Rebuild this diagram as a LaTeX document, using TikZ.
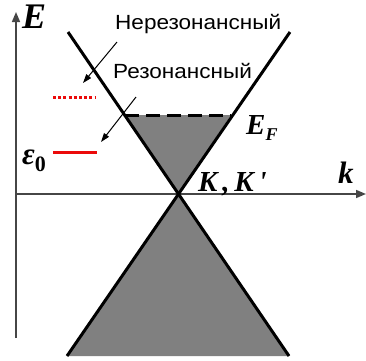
\documentclass[tikz,border=0pt]{standalone}
\usepackage{fontspec}
\setmainfont{Liberation Serif}
\newfontfamily\capfont[FakeStretch=1.1]{Liberation Sans}
\usetikzlibrary{arrows.meta}
\definecolor{levelred}{RGB}{235, 10, 10}
\definecolor{axisgray}{RGB}{70, 70, 70}
\definecolor{bandgray}{RGB}{128, 128, 128}

\begin{document}
\begin{tikzpicture}[x=1pt, y=-1pt,
  axis/.style={line width=1.6pt, axisgray, -{Triangle[length=10pt, width=8pt]}},
  cone/.style={line width=3pt, black},
  band/.style={fill=bandgray, draw=none},
  level/.style={line width=3pt, levelred},
  ptr/.style={line width=1pt, black, -{Triangle[length=9pt, width=6pt]}},
  caption/.style={font=\capfont\fontsize{20.5}{22}\selectfont, inner sep=0pt, anchor=base west},
  sym/.style={font=\bfseries\itshape\fontsize{#1}{#1}\selectfont, inner sep=0pt, anchor=base west}
]
  \useasboundingbox (0,0) rectangle (366,360);
  % points of the cone
  \coordinate (dirac) at (178,194);
  \coordinate (ul) at (68,32);
  \coordinate (ur) at (290,32);
  \coordinate (ll) at (67,356);
  \coordinate (lr) at (289,356);
  \coordinate (fl) at (125,115);
  \coordinate (fr) at (231,115);
  % filled bands
  \fill[band] (dirac) -- (ll) -- (lr) -- cycle;
  \fill[band] (fl) -- (fr) -- (dirac) -- cycle;
  % axes
  \coordinate (origin) at (16,338);
  \coordinate (etop) at (16,12);
  \coordinate (kleft) at (16,194);
  \coordinate (kright) at (366,194);
  \draw[axis] (origin) -- (etop);
  \draw[axis] (kleft) -- (kright);
  % cone lines
  \draw[cone] (ul) -- (lr);
  \draw[cone] (ur) -- (ll);
  \draw[cone, dash pattern=on 14pt off 7pt] (fl) -- (fr);
  % levels
  \coordinate (nrl) at (53,97);
  \coordinate (nrr) at (96,97);
  \coordinate (rl) at (53,152);
  \coordinate (rr) at (97,152);
  \draw[level, dash pattern=on 3pt off 2.2pt] (nrl) -- (nrr);
  \draw[level] (rl) -- (rr);
  % captions
  \node[caption] (nonres) at (115,29) {Нерезонансный};
  \node[caption] (res) at (113,78) {Резонансный};
  \coordinate (nrtail) at (117,42);
  \coordinate (nrhead) at (83,83);
  \coordinate (rtail) at (136,97);
  \coordinate (rhead) at (101,142);
  \draw[ptr] (nrtail) -- (nrhead);
  \draw[ptr] (rtail) -- (rhead);
  % symbols
  \node[sym=36] (elabel) at (22,28) {E};
  \node[sym=29] (eflabel) at (246,134) {E\raisebox{-6pt}{\fontsize{18}{18}\selectfont F}};
  \node[sym=29] (kklabel) at (198,191) {K\,,\,K\,\textquotesingle};
  \node[sym=31] (klabel) at (338,183) {k};
  \node[sym=31] (epslabel) at (22,164) {ε\raisebox{-7pt}{\upshape\fontsize{22}{22}\selectfont 0}};
\end{tikzpicture}
\end{document}
